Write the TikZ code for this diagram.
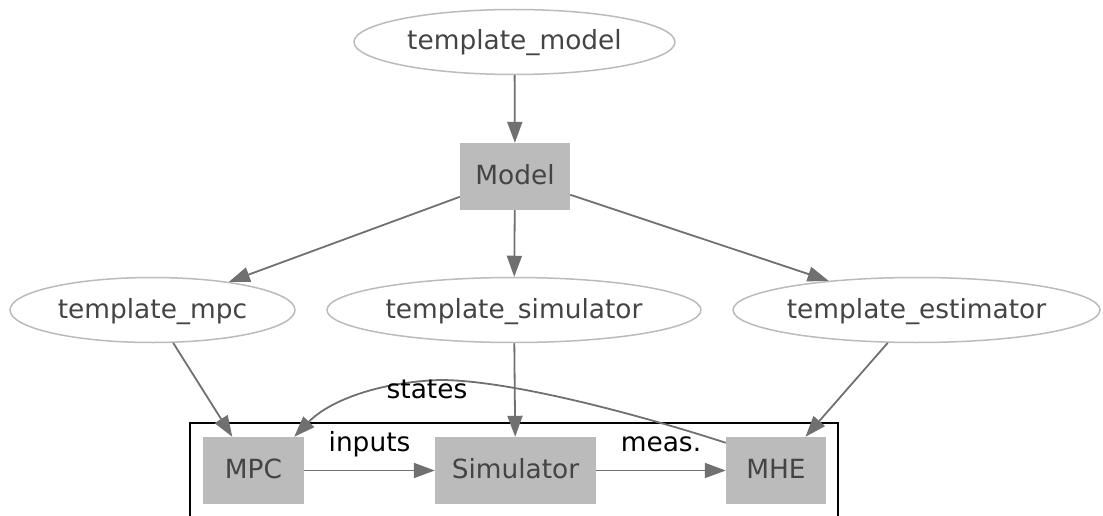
\documentclass[tikz,border=0pt]{standalone}
\usepackage{fontspec}
\setmainfont{DejaVu Sans}
\usetikzlibrary{arrows.meta,shapes.geometric}
\definecolor{boxgray}{HTML}{BBBBBB}
\definecolor{txtgray}{HTML}{444444}
\definecolor{edgegray}{HTML}{707070}
\begin{document}
\begin{tikzpicture}[x=1pt,y=-1pt,
  every node/.style={font=\fontsize{26.4}{30}\selectfont, text height=20pt, text depth=4pt, inner sep=0pt},
  tmpl/.style={ellipse, draw=boxgray, line width=1.5pt, text=txtgray, minimum height=65pt},
  blk/.style={rectangle, fill=boxgray, text=txtgray, minimum height=67pt},
  conn/.style={draw=edgegray, line width=1.8pt, -{Triangle[length=21pt,width=15pt]}},
  lbl/.style={text=black}
]
\useasboundingbox (0,0) rectangle (1103,516);
% cluster
\draw[line width=1.8pt, black] (190,545) -- (190,423) -- (838,423) -- (838,545);
% nodes
\node[tmpl, minimum width=321pt] (tm) at (514.5,42) {template\_model};
\node[blk, minimum width=110pt] (model) at (515,176.5) {Model};
\node[tmpl, minimum width=285pt] (tmpc) at (152.5,310) {template\_mpc};
\node[tmpl, minimum width=374pt] (tsim) at (514,310) {template\_simulator};
\node[tmpl, minimum width=367pt] (test) at (916.5,310) {template\_estimator};
\node[blk, minimum width=101pt] (mpc) at (253.5,470.5) {MPC};
\node[blk, minimum width=161pt] (sim) at (515.5,470.5) {Simulator};
\node[blk, minimum width=100pt] (mhe) at (776,470.5) {MHE};
% connectors
\draw[conn] (tm) -- (model);
\draw[conn] (model) -- (tmpc);
\draw[conn] (model) -- (tsim);
\draw[conn] (model) -- (test);
\draw[conn] (tmpc) -- (mpc);
\draw[conn] (tsim) -- (sim);
\draw[conn] (test) -- (mhe);
\draw[conn] (mpc) -- node[lbl, above=14pt] {inputs} (sim);
\draw[conn] (sim) -- node[lbl, above=14pt] {meas.} (mhe);
\coordinate (top) at (440,380);
\draw[conn] ([yshift=-6pt]mhe.north west) .. controls (640,415) and (510,380) .. (top)
  node[lbl, xshift=-13pt, yshift=-10pt] {states}
  .. controls (380,382) and (330,400) .. ([xshift=-10pt]mpc.north east);
\end{tikzpicture}
\end{document}
